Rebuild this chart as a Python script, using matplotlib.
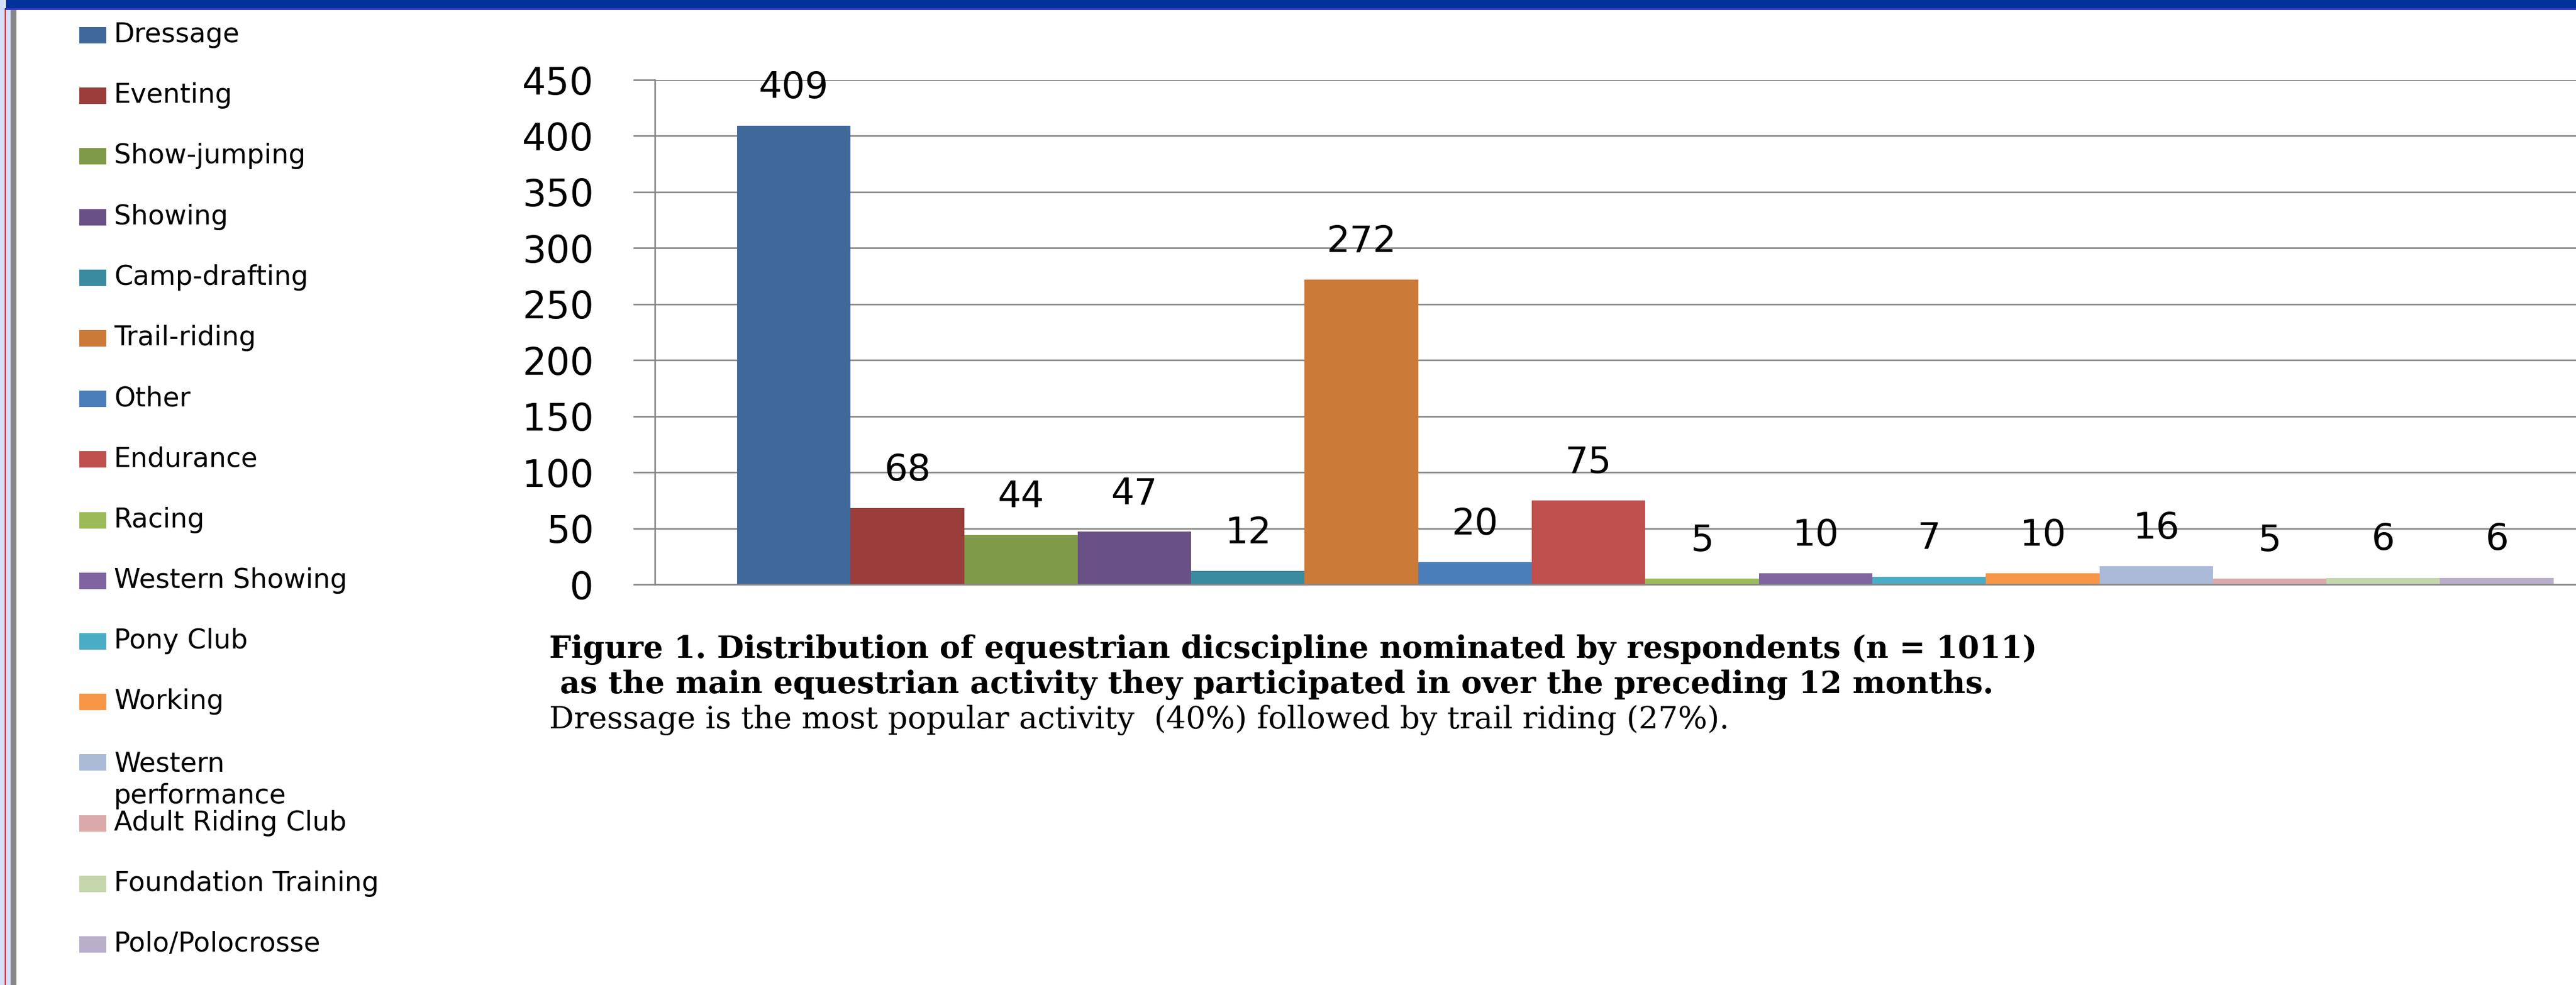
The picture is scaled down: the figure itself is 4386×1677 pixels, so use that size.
import matplotlib
matplotlib.use("Agg")
import matplotlib.pyplot as plt
from matplotlib.patches import Rectangle

disciplines = ["Dressage", "Eventing", "Show-jumping", "Showing", "Camp-drafting",
               "Trail-riding", "Other", "Endurance", "Racing", "Western Showing",
               "Pony Club", "Working", "Western\nperformance", "Adult Riding Club",
               "Foundation Training", "Polo/Polocrosse"]
counts = [409, 68, 44, 47, 12, 272, 20, 75, 5, 10, 7, 10, 16, 5, 6, 6]
colors = ["#40699A", "#9B3D3B", "#7F9A48", "#695185", "#3A8AA0", "#CC7A38",
          "#4A7EBB", "#C0504D", "#9BBB59", "#8064A2", "#4BACC6", "#F79646",
          "#AABAD7", "#D9AAA9", "#C6D6AC", "#B9AFCB"]
yticks = [0, 50, 100, 150, 200, 250, 300, 350, 400, 450]
caption = [
    ("Figure 1. Distribution of equestrian dicscipline nominated by respondents (n = 1011)", "bold"),
    (" as the main equestrian activity they participated in over the preceding 12 months.", "bold"),
    ("Dressage is the most popular activity  (40%) followed by trail riding (27%).", "normal"),
]

W, H = 4386, 1677
DPI = 100
fig = plt.figure(figsize=(W / DPI, H / DPI), dpi=DPI, facecolor="white")

def px(x, y):
    # pixel (from top-left) -> figure fraction
    return x / W, 1 - y / H

# slide frame: top band and left edge strips
fig.patches.append(Rectangle((0, 0), 8 / W, 1, transform=fig.transFigure,
                             facecolor="#D4E0FF", edgecolor="none", zorder=0))
fig.patches.append(Rectangle((8 / W, 0), 2 / W, 1 - 17 / H, transform=fig.transFigure,
                             facecolor="#FF0000", edgecolor="none", zorder=0))
fig.patches.append(Rectangle((10 / W, 0), 8 / W, 1 - 17 / H, transform=fig.transFigure,
                             facecolor="#D4E0FF", edgecolor="none", zorder=0))
fig.patches.append(Rectangle((18 / W, 0), 10 / W, 1 - 17 / H, transform=fig.transFigure,
                             facecolor="#878787", edgecolor="none", zorder=0))
fig.patches.append(Rectangle((8 / W, 1 - 17 / H), 1, 3 / H, transform=fig.transFigure,
                             facecolor="#3333CC", edgecolor="none", zorder=0))
fig.patches.append(Rectangle((10 / W, 1 - 14 / H), 1, 14 / H, transform=fig.transFigure,
                             facecolor="#003399", edgecolor="none", zorder=0))

# plot area (runs past the right edge of the figure)
ax_left, ax_top, ax_bottom = 1115, 136, 995
gap = 0.724
unit = 193.3
ax_w = (len(counts) + 2 * gap) * unit
ax = fig.add_axes([ax_left / W, 1 - ax_bottom / H, ax_w / W, (ax_bottom - ax_top) / H])
ax.set_facecolor("none")

xs = list(range(len(counts)))
bars = ax.bar(xs, counts, width=1.0, align="edge", color=colors, zorder=3)
ax.set_xlim(-gap, len(counts) + gap)
ax.set_ylim(0, 450)
ax.set_yticks(yticks)
ax.set_xticks([])

grid_c = "#868686"
ax.yaxis.grid(True, color=grid_c, linewidth=1.9, zorder=1)
for s in ["top", "right"]:
    ax.spines[s].set_visible(False)
for s in ["left", "bottom"]:
    ax.spines[s].set_color(grid_c)
    ax.spines[s].set_linewidth(1.9)
    ax.spines[s].set_zorder(4)
ax.tick_params(axis="y", direction="out", length=27, width=1.9, color=grid_c,
               pad=48, labelsize=46)
for lab in ax.get_yticklabels():
    lab.set_fontfamily("DejaVu Sans")

for b, v in zip(bars, counts):
    ax.annotate(str(v), (b.get_x() + b.get_width() / 2, v), xytext=(0, 34),
                textcoords="offset points", ha="center", va="baseline",
                fontsize=45, family="DejaVu Sans", color="black")

# legend down the left side
leg_size = 33
leg_spacing = 1.25
line_px = leg_size * leg_spacing * DPI / 72
for i, (name, c) in enumerate(zip(disciplines, colors)):
    cy = 60 + i * 103.2
    x0, y0 = px(135, cy + 14)
    fig.patches.append(Rectangle((x0, y0), 46 / W, 28 / H, transform=fig.transFigure,
                                 facecolor=c, edgecolor="none"))
    # baseline alignment sits on the last line of a wrapped label
    extra = name.count("\n") * line_px
    tx, ty = px(194, cy + 12 + extra)
    fig.text(tx, ty, name, fontsize=leg_size, family="DejaVu Sans", ha="left",
             va="baseline", linespacing=leg_spacing, color="black")

# figure caption under the chart
for j, (line, weight) in enumerate(caption):
    tx, ty = px(935, 1120 + j * 60)
    fig.text(tx, ty, line, fontsize=38, family="DejaVu Serif", fontweight=weight,
             ha="left", va="baseline", color="black")

fig.savefig("out.png", dpi=DPI, facecolor="white")
